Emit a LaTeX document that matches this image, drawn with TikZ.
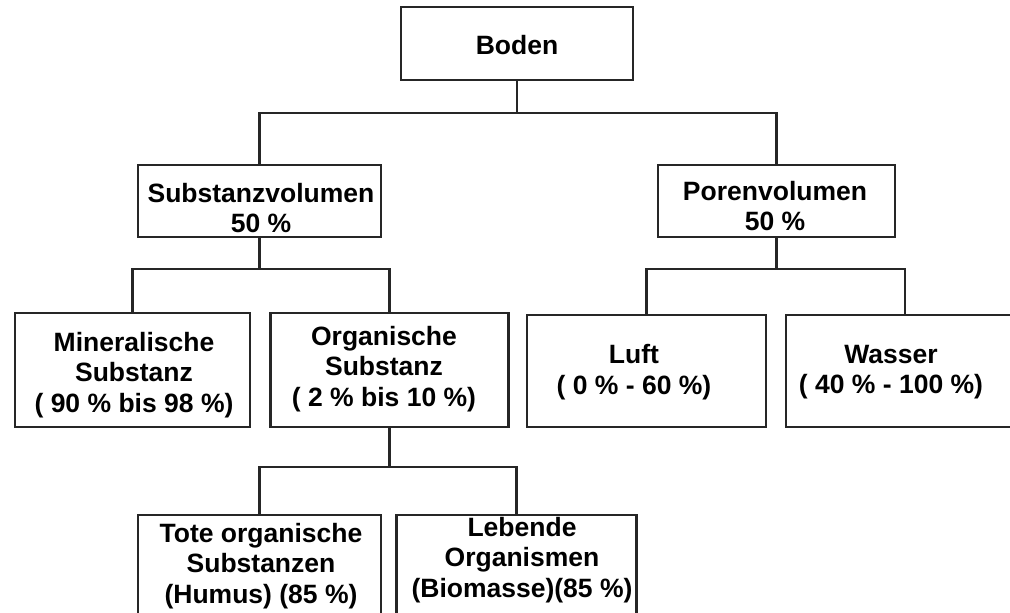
\documentclass[tikz,border=0pt]{standalone}
\usepackage{fontspec}
\setmainfont{Liberation Sans}
\begin{document}
\begin{tikzpicture}[x=1pt,y=-1pt,
  box/.style={draw=black!85, line width=2.2pt, rectangle, inner sep=0pt, fill=none},
  txt/.style={font=\bfseries\fontsize{26.5}{30.5}\selectfont, align=center, inner sep=0pt, text=black},
  conn/.style={draw=black!85, line width=2.2pt}]
\useasboundingbox (0,0) rectangle (1010,613);
\fill[white] (0,0) rectangle (1010,613);
\clip (0,0) rectangle (1010,613);
% boxes
\node[box, minimum width=232pt, minimum height=73pt] (boden) at (517,43.5) {};
\node[box, minimum width=243pt, minimum height=72pt] (subst) at (259.5,201) {};
\node[box, minimum width=237pt, minimum height=72pt] (poren) at (776.5,201) {};
\node[box, minimum width=235pt, minimum height=114pt] (miner) at (132.5,370) {};
\node[box, minimum width=238pt, minimum height=114pt] (organ) at (389.5,370) {};
\node[box, minimum width=239pt, minimum height=112pt] (luft) at (646.5,371) {};
\node[box, minimum width=238pt, minimum height=112pt] (wasser) at (905,371) {};
\node[box, minimum width=243pt, minimum height=110pt] (tote) at (259.5,570) {};
\node[box, minimum width=240pt, minimum height=110pt] (lebend) at (516.5,570) {};
% texts
\node[txt] (tboden) at (517,45) {Boden};
\node[txt] (tsubst) at (261,208) {Substanzvolumen\\50 \%};
\node[txt] (tporen) at (775,206) {Porenvolumen\\50 \%};
\node[txt] (tminer) at (134,375) {Mineralische\\Substanz\\( 90 \% bis 98 \%)};
\node[txt] (torgan) at (384,369) {Organische\\Substanz\\( 2 \% bis 10 \%)};
\node[txt] (tluft) at (634,372) {Luft\\( 0 \% - 60 \%)};
\node[txt] (twasser) at (891,372) {Wasser\\( 40 \% - 100 \%)};
\node[txt] (ttote) at (261,566) {Tote organische\\Substanzen\\(Humus) (85 \%)};
\node[txt] (tlebend) at (522,560) {Lebende\\Organismen\\(Biomasse)(85 \%)};
% connectors
\draw[conn] (boden.south) -- ++(0,32) -| (subst.north);
\draw[conn] (boden.south) -- ++(0,32) -| (poren.north);
\draw[conn] (subst.south) -- ++(0,31) -| (miner.north);
\draw[conn] (subst.south) -- ++(0,31) -| (organ.north);
\draw[conn] (poren.south) -- ++(0,31) -| (luft.north);
\draw[conn] (poren.south) -- ++(0,31) -| (wasser.north);
\draw[conn] (organ.south) -- ++(0,39) -| (tote.north);
\draw[conn] (organ.south) -- ++(0,39) -| (lebend.north);
\end{tikzpicture}
\end{document}
